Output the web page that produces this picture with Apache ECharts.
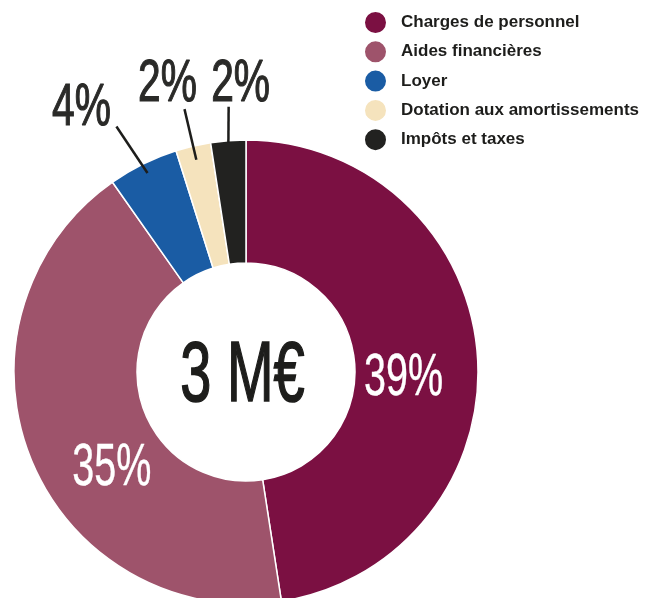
<!DOCTYPE html>
<html>
<head>
<meta charset="utf-8">
<script src="https://cdn.jsdelivr.net/npm/echarts@6/dist/echarts.min.js"></script>
<style>
  html, body { margin: 0; padding: 0; background: #fff; }
  #chart { width: 656px; height: 598px; }
</style>
</head>
<body>
<div id="chart"></div>
<script>
var categories = ['Charges de personnel', 'Aides financières', 'Loyer', 'Dotation aux amortissements', 'Impôts et taxes'];
var shares = [39, 35, 4, 2, 2];
var totalLabel = '3 M€';

var colors = ['#7b1042', '#9e536b', '#1a5ca4', '#f5e3bd', '#222220'];
var labelFont = "'Liberation Sans', Arial, sans-serif";

// placement des étiquettes (inside = dans l'anneau, sinon trait + texte au-dessus)
var labelPlace = [
    { inside: true, dx: -12.5, dy: 16 },
    { inside: true, dx: 24, dy: 29 },
    { r0: 222, r1: 274, lx: -8, tx: -35, ty: -22 },
    { r0: 218, r1: 270, lx: 0, tx: -17, ty: -28 },
    { r0: 230, r1: 266, lx: 3, tx: 12, ty: -26 }
];
var pctSize = 59;
var centerSize = 86;

var chart = echarts.init(document.getElementById('chart'));

var option = {
    color: colors,
    animation: false,
    legend: {
        orient: 'vertical',
        left: 363,
        top: 10,
        padding: 0,
        icon: 'circle',
        itemWidth: 23,
        itemHeight: 23,
        itemGap: 4.3,
        selectedMode: false,
        textStyle: {
            fontFamily: 'Liberation Sans',
            fontWeight: 'bold',
            fontSize: 17,
            lineHeight: 23,
            color: '#1d1d1b',
            padding: [0, 0, 0, 9]
        },
        data: categories
    },
    series: [
        {
            type: 'pie',
            center: [246, 372],
            radius: [109, 232],
            startAngle: 90,
            clockwise: true,
            label: { show: false },
            labelLine: { show: false },
            emphasis: { disabled: true },
            itemStyle: { borderColor: '#fff', borderWidth: 1.5 },
            data: categories.map(function (n, i) {
                return { name: n, value: shares[i] };
            })
        }
    ]
};
chart.setOption(option);

function condText(x, y, txt, size, sx, fill, strokeW) {
    return {
        type: 'text',
        z: 100,
        x: x,
        y: y + 0.065 * size,
        scaleX: sx,
        style: {
            text: txt, fill: fill, stroke: strokeW ? fill : null, lineWidth: strokeW,
            fontFamily: labelFont, fontWeight: 'normal',
            fontSize: size, align: 'center', verticalAlign: 'middle'
        }
    };
}

// étiquettes : positions tirées de la mise en page du camembert
var pieData = chart.getModel().getSeriesByIndex(0).getData();
var graphics = [];
shares.forEach(function (v, i) {
    var lay = pieData.getItemLayout(i);
    var mid = (lay.startAngle + lay.endAngle) / 2;
    var c = Math.cos(mid), s = Math.sin(mid);
    var p = labelPlace[i];
    var txt = v + '%';
    if (p.inside) {
        var rm = (lay.r + lay.r0) / 2;
        graphics.push(condText(lay.cx + rm * c + p.dx, lay.cy + rm * s + p.dy, txt, pctSize, 0.67, '#ffffff', 0.4));
    } else {
        var x1 = lay.cx + p.r0 * c, y1 = lay.cy + p.r0 * s;
        var x2 = lay.cx + p.r1 * c + p.lx, y2 = lay.cy + p.r1 * s;
        graphics.push({
            type: 'line',
            z: 100,
            shape: { x1: x1, y1: y1, x2: x2, y2: y2 },
            style: { stroke: '#1d1d1b', lineWidth: 2.5 }
        });
        graphics.push(condText(x2 + p.tx, y2 + p.ty, txt, pctSize, 0.69, '#2a2a28', 1.2));
    }
});
var lay0 = pieData.getItemLayout(0);
graphics.push(condText(lay0.cx - 3.5, lay0.cy - 0.5, totalLabel, centerSize, 0.65, '#1d1d1b', 1.6));
chart.setOption({ graphic: graphics });

window.addEventListener('resize', function () {
    chart.resize();
});
</script>
</body>
</html>
